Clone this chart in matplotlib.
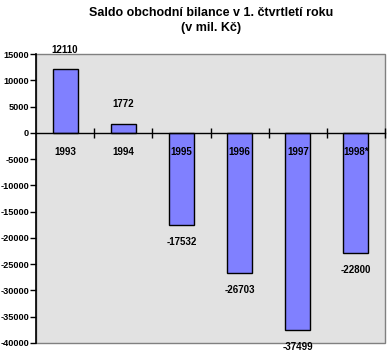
import matplotlib.pyplot as plt
from matplotlib.patches import Rectangle

# data
roky = ['1993', '1994', '1995', '1996', '1997', '1998*']
saldo = [12110, 1772, -17532, -26703, -37499, -22800]
yticks = list(range(-40000, 15001, 5000))

plt.rcParams['font.family'] = ['DejaVu Sans Condensed', 'Liberation Sans', 'DejaVu Sans']
plt.rcParams['font.weight'] = 'bold'

fig = plt.figure(figsize=(3.87, 3.54), dpi=100)
ax = fig.add_axes([36 / 387, 1 - 343 / 354, 349 / 387, 289 / 354])
ax.set_facecolor('#e2e2e2')

x = list(range(len(roky)))
ax.bar(x, saldo, width=0.43, color='#8080ff', edgecolor='black', linewidth=1, zorder=3)

ax.set_xlim(-0.5, len(roky) - 0.5)
ax.set_ylim(-40000, 15000)
ax.set_yticks(yticks)
ax.set_yticklabels([str(v) for v in yticks], fontsize=6.6)
ax.tick_params(axis='y', direction='out', length=4, width=1, pad=1)

# zero line with category ticks
ax.spines['bottom'].set_position(('data', 0))
ax.spines['bottom'].set_linewidth(1)
ax.spines['bottom'].set_zorder(4)
ax.set_xticks([i + 0.5 for i in x])
ax.set_xticklabels([])
ax.tick_params(axis='x', direction='inout', length=7, width=1)
ax.spines['left'].set_linewidth(1.2)
ax.spines['top'].set_visible(False)
ax.spines['right'].set_visible(False)
ax.add_patch(Rectangle((0, 0), 1, 1, transform=ax.transAxes, fill=False,
                       edgecolor='#808080', linewidth=1, zorder=1, clip_on=False))

for i, (r, v) in enumerate(zip(roky, saldo)):
    ax.annotate(r, (i, 0), xytext=(0, -14), textcoords='offset points',
                ha='center', va='center', fontsize=7, zorder=5)
    off = 14 if v > 0 else -12.5
    ax.annotate(str(v), (i, v), xytext=(0, off), textcoords='offset points',
                ha='center', va='center', fontsize=7, zorder=5)

fig.text(0.545, 1 - 13 / 354, 'Saldo obchodní bilance v 1. čtvrtletí roku',
         ha='center', va='center', fontsize=9)
fig.text(0.545, 1 - 28 / 354, '(v mil. Kč)', ha='center', va='center', fontsize=9)

fig.savefig('out.png', dpi=100)
